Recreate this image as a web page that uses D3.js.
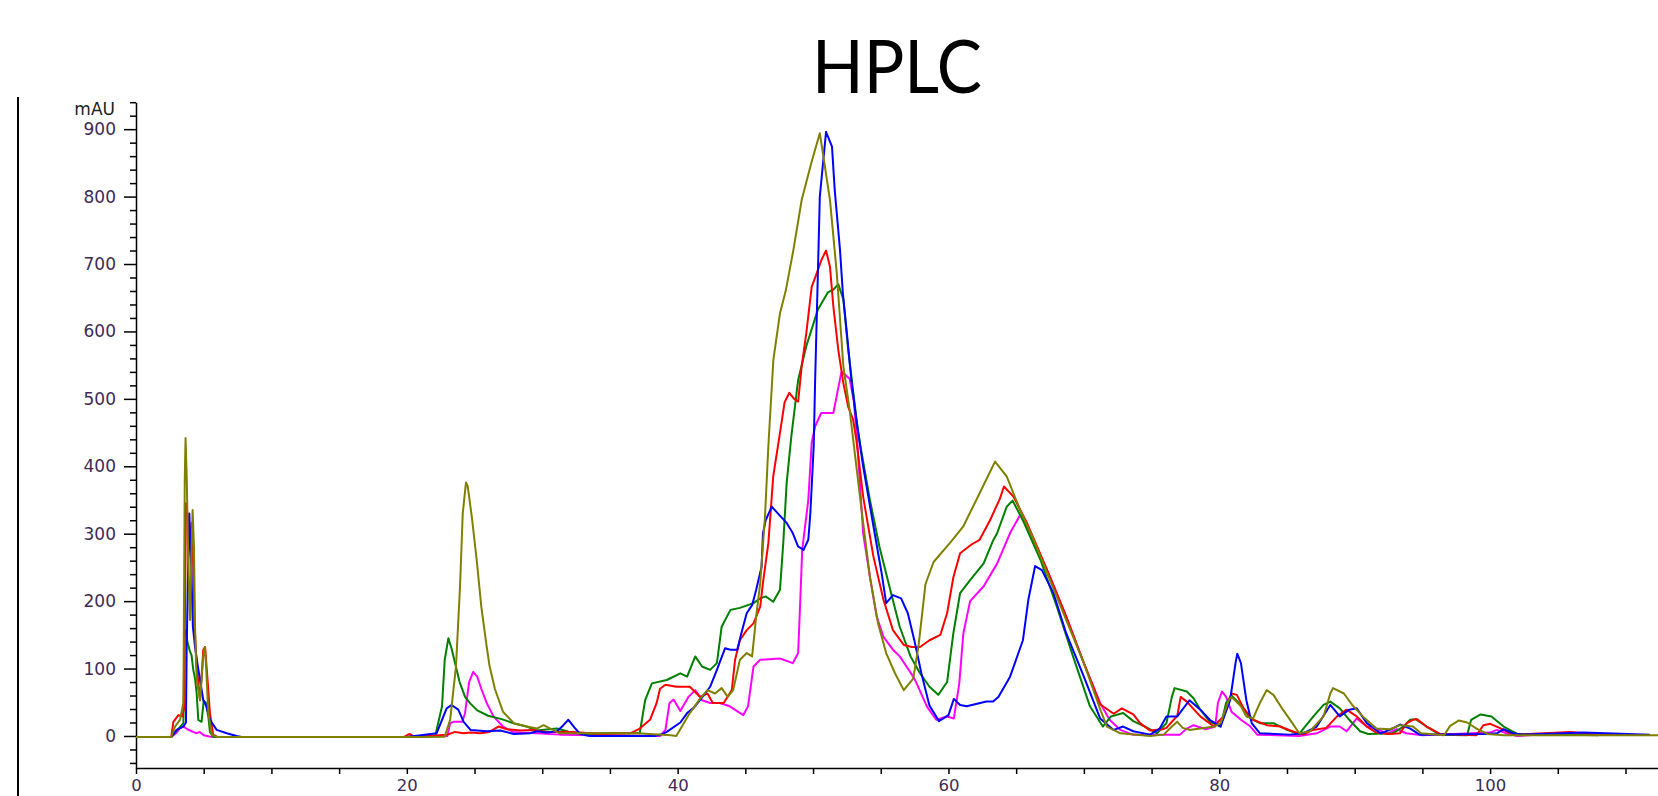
<!DOCTYPE html>
<html>
<head>
<meta charset="utf-8">
<script src="https://cdn.jsdelivr.net/npm/d3@7"></script>
<style>
  body { margin: 0; background: #fff; }
  svg { display: block; }
</style>
</head>
<body>
<svg id="hplc"></svg>
<script>
var width = 1658,
    height = 796;

// retention time (min), absorbance (mAU)
var olive = [[0,-1.5],[2.6,-1.5],[2.88,14],[3.25,24],[3.5,49],[3.6,380],[3.66,442],[3.75,380],[3.86,261],[3.99,172],[4.1,271],[4.18,335],[4.28,281],[4.36,162],[4.48,83],[4.73,53],[4.97,118],[5.1,132],[5.2,93],[5.34,34],[5.6,2],[5.9,-1.5],
  [20,-1.5],[22.8,-1],[23.2,24],[23.63,103],[23.93,222],[24.13,330],[24.37,376],[24.5,370],[24.8,325],[25.16,261],[25.5,192],[25.9,132],[26.1,105],[26.5,70],[27.1,36],[27.9,19],[28.85,14],[29.6,11],[30.1,16],[30.6,11],[31.3,4],[34,4],[37,4],[39.5,1],[39.9,0],
  [40.4,17],[40.9,34],[41.65,55],[42.2,68],[42.76,63],[43.25,71],[43.7,58],[44.1,68],[44.6,113],[45.1,123],[45.5,118],[45.8,177],[46.1,227],[46.45,325],[46.7,430],[47.07,558],[47.56,627],[48.0,662],[48.55,721],[49.16,795],[49.9,852],[50.5,894],[51.25,795],[51.75,687],[52.24,548],[52.7,484],[53.2,400],[53.7,316],[54.2,236],[54.8,167],[55.4,123],[56.05,93],[56.7,68],[57.4,85],[57.8,135],[58.3,225],[58.9,258],[60.1,286],[61.1,311],[62.3,360],[63.44,407],[64.3,385],[65.3,335],[66.3,291],[67.5,231],[68.7,172],[70.0,108],[71.2,40],[71.7,14],[72.7,4],[74.9,0],[75.9,2],
  [76.5,14],[76.9,21],[77.3,12],[77.8,9],[78.6,11],[79.6,14],[80.1,19],[80.7,53],[80.9,58],[81.6,44],[82.0,29],[82.5,26],[83.0,49],[83.5,68],[84.0,61],[84.7,39],[85.4,19],[85.9,4],[86.7,7],[87.7,29],[88.2,63],[88.4,71],[89.2,63],[89.9,44],[90.6,29],[91.6,11],[92.6,10],[93.35,16],[94.3,14],[94.9,4],[96.6,1],[97.05,15],[97.7,23],[98.3,20],[99.0,11],[99.8,3],[101,1],[112.4,1]];

var blue = [[0,-1.5],[2.6,-1.5],[3.0,9],[3.5,14],[3.69,20],[3.74,128],[3.86,261],[3.94,330],[4.0,290],[4.08,251],[4.2,162],[4.36,132],[4.53,108],[4.73,83],[4.97,53],[5.2,44],[5.46,24],[5.96,9],[6.7,4],[7.43,0],[7.8,-1.5],
  [20,-1.5],[22.2,4],[22.6,24],[22.94,41],[23.3,46],[23.8,39],[24.2,21],[24.7,9],[25.9,7],[26.9,8],[27.9,3],[29.1,4],[29.6,7],[30.3,5],[31.1,7],[31.56,16],[31.93,24],[32.4,12],[32.8,3],[33.5,0],[38.3,0],[38.9,3],[39.2,6],
  [40.2,20],[40.7,34],[41.2,42],[41.65,53],[42.4,73],[42.9,98],[43.5,130],[43.9,128],[44.4,128],[44.7,152],[45.1,182],[45.5,194],[45.8,217],[46.2,251],[46.3,300],[46.5,320],[46.95,340],[47.5,328],[48.05,316],[48.5,301],[48.9,281],[49.3,276],[49.65,291],[49.8,330],[50.05,430],[50.15,524],[50.4,720],[50.5,800],[50.96,896],[51.4,874],[51.6,810],[51.99,721],[52.2,657],[52.5,597],[52.85,524],[53.2,469],[53.7,400],[54.46,311],[55.07,241],[55.4,197],[55.9,209],[56.5,204],[57.0,182],[57.5,140],[58.0,93],[58.6,45],[59.3,22],[60.0,31],[60.4,55],[60.86,46],[61.35,44],[62.8,51],[63.3,51],[63.7,58],[64.55,88],[65.5,142],[65.9,202],[66.4,252],[66.9,246],[67.75,212],[68.7,152],[70.0,88],[71.2,26],[72.2,9],[72.9,14],[73.65,7],[74.9,2],
  [75.6,11],[76.1,29],[76.9,29],[77.8,53],[78.6,39],[79.3,24],[80.1,14],[80.8,53],[81.2,108],[81.33,122],[81.6,108],[82.0,53],[82.4,19],[83.0,4],[85.2,2],[86.2,4],[87.2,14],[88.2,46],[88.9,29],[89.6,39],[90.15,41],[90.9,19],[91.9,4],[92.6,9],[93.35,17],[94.1,11],[94.8,2],[99.5,3],[100.5,4],[101.0,10],[101.7,4],[102.5,2],[105.4,4],[106.9,5],[111.8,2]];

var red = [[0,-1.5],[2.6,-1.5],[2.76,21],[3.13,31],[3.4,29],[3.55,40],[3.69,345],[3.86,320],[3.99,291],[4.1,316],[4.23,251],[4.33,162],[4.48,103],[4.73,53],[4.97,128],[5.1,132],[5.25,93],[5.46,34],[5.7,2],[6.0,-1.5],
  [19.8,-1.5],[20.2,3],[20.5,-1],[23.0,2],[23.56,6],[24.2,4],[24.7,5],[25.4,4],[26.1,6],[26.76,14],[27.4,10],[28.4,8],[29.3,9],[30.3,6],[31.3,6],[32.3,6],[34.3,3],[36.5,4],[37.2,11],[37.96,24],[38.45,49],[38.7,70],[39.1,76],[39.9,73],
  [40.9,73],[41.65,58],[42.2,63],[42.6,49],[43.4,49],[44.0,68],[44.24,113],[44.6,142],[45.1,157],[45.6,167],[46.1,192],[46.3,227],[46.7,286],[47.06,385],[47.56,450],[47.9,495],[48.25,509],[48.6,500],[48.9,496],[49.16,548],[49.5,597],[49.9,666],[50.27,686],[50.6,705],[50.96,720],[51.25,696],[51.5,637],[51.87,572],[52.24,523],[52.6,488],[52.96,469],[53.2,439],[53.7,355],[54.46,266],[55.2,202],[55.9,157],[56.7,135],[57.3,132],[57.9,132],[58.6,142],[59.4,150],[59.9,182],[60.36,235],[60.86,271],[61.7,284],[62.3,291],[63.07,320],[63.8,352],[64.1,370],[64.8,355],[65.8,316],[67.5,236],[68.7,177],[70,108],[71.2,47],[72.2,33],[72.8,41],[73.65,32],[74.15,19],[74.9,8],[75.8,10],
  [76.1,12],[76.9,30],[77.15,58],[77.6,51],[78.6,29],[79.6,14],[80.3,29],[80.9,63],[81.3,61],[81.8,41],[82.5,24],[83.5,16],[84.5,14],[85.4,7],[86.2,2],[86.9,9],[87.9,12],[88.7,29],[89.4,39],[90.15,29],[90.9,14],[91.6,5],[92.6,3],[93.35,4],[93.85,19],[94.3,24],[94.6,25],[95.3,14],[95.6,11],[96.3,3],[99.0,1],[99.5,16],[100.0,18],[100.7,12],[101.5,4],[102,2],[105.9,6],[107,4],[109.8,2]];

var green = [[0,-1.5],[2.6,-1.5],[3.0,8],[3.5,19],[3.58,152],[3.69,157],[3.79,140],[3.99,125],[4.1,120],[4.23,98],[4.36,85],[4.48,63],[4.6,24],[4.84,21],[5.0,52],[5.15,50],[5.34,29],[5.46,6],[5.7,-1.5],
  [20,-1.5],[22.1,0],[22.6,44],[22.8,113],[23.07,145],[23.3,130],[23.6,105],[23.9,80],[24.3,58],[24.7,48],[25.2,38],[26.0,30],[27.0,25],[28.0,18],[28.85,14],[29.6,8],[30.5,10],[31.1,11],[32.0,6],[33,3],[34.3,4],[37.2,4],[37.6,53],[38.1,78],[39.2,83],
  [40.2,93],[40.7,88],[41.3,118],[41.8,103],[42.4,98],[42.9,108],[43.25,162],[43.9,187],[44.6,190],[45.6,197],[46.1,204],[46.5,207],[47.06,199],[47.56,217],[47.8,286],[48.05,375],[48.4,445],[48.9,528],[49.5,578],[50.35,632],[51.1,658],[51.5,662],[51.87,670],[52.24,647],[52.6,572],[52.98,508],[53.3,455],[53.5,430],[54.2,350],[54.9,281],[55.7,217],[56.4,162],[57.2,118],[57.9,93],[58.6,73],[59.25,61],[59.9,80],[60.36,152],[60.86,212],[61.6,231],[62.6,256],[63.3,290],[63.6,301],[64.3,340],[64.74,349],[65.5,320],[66.8,261],[68.0,192],[69.2,118],[70.45,44],[71.4,14],[72.0,29],[72.9,34],[73.65,22],[74.7,12],[75.4,4],
  [76.1,19],[76.5,58],[76.7,71],[77.6,66],[78.1,56],[78.6,39],[79.3,21],[80.1,14],[80.5,49],[80.9,60],[81.6,46],[82.3,26],[83.0,19],[84.0,19],[85.0,9],[85.9,3],[86.95,29],[87.7,46],[88.2,51],[88.9,41],[89.6,24],[90.4,7],[91,3],[92.8,4],[93.6,14],[94.1,24],[94.5,25],[95.3,14],[96.3,2],[98.3,1],[98.6,24],[99.3,32],[100.1,29],[101.0,14],[102,3],[108,1]];

var magenta = [[0,-1.5],[2.6,-1.5],[3.0,5],[3.25,12],[3.5,14],[3.8,10],[4.2,6],[4.48,4],[4.7,6],[5.0,1],[5.5,-1],[7.2,-1.5],
  [20,-1.5],[23.0,0],[23.2,19],[23.45,21],[24.1,21],[24.3,34],[24.6,80],[24.9,95],[25.2,88],[25.5,70],[25.9,49],[26.4,29],[27.1,14],[27.85,6],[28.4,5],[29.6,4],[31.3,2],[34,1],[38.7,0],[39.1,9],[39.4,49],[39.7,54],
  [40.2,37],[40.8,58],[41.3,68],[41.8,53],[42.4,49],[43.1,49],[43.85,44],[44.85,31],[45.2,44],[45.6,103],[46.1,113],[47.56,115],[48.5,108],[48.9,123],[49.04,192],[49.2,276],[49.65,350],[49.9,435],[50.15,459],[50.6,479],[51.5,479],[51.9,520],[52.1,540],[52.7,530],[53.0,498],[53.2,455],[53.7,301],[54.2,236],[54.7,177],[55.2,147],[55.9,128],[56.4,118],[56.9,103],[57.4,88],[57.65,78],[58.4,44],[59.1,24],[59.9,29],[60.4,26],[60.8,78],[61.1,152],[61.6,200],[62.6,222],[63.6,256],[64.55,301],[65.3,328],[66.3,291],[67.5,236],[68.7,177],[70,108],[71.2,49],[71.9,24],[72.7,9],[73.6,2],
  [77.1,2],[77.6,11],[78.1,16],[79.0,10],[79.7,14],[79.9,49],[80.2,66],[80.5,58],[80.9,36],[81.6,24],[82.3,14],[82.8,2],[85.9,0],[87.2,4],[88.2,14],[88.9,14],[89.4,7],[90.15,26],[90.9,14],[91.6,11],[92.4,3],[93.1,10],[93.8,4],[95,1],[100,5],[100.5,9],[101.2,4],[102,0],[105.5,4],[109.4,2]];

var series = [
  {name: "magenta", color: "#ff00ff", values: magenta},
  {name: "green", color: "#008000", values: green},
  {name: "red", color: "#ff0000", values: red},
  {name: "blue", color: "#0000ff", values: blue},
  {name: "olive", color: "#808000", values: olive}
];

var xLabels = [0, 20, 40, 60, 80, 100];
var yLabels = [0, 100, 200, 300, 400, 500, 600, 700, 800, 900];

var svg = d3.select("#hplc")
    .attr("width", width)
    .attr("height", height);

var xScale = d3.scaleLinear().domain([0, 112.4]).range([136, 1658]);
var yScale = d3.scaleLinear().domain([-47.5, 940]).range([768, 102.2]);

// frame line on the left
svg.append("line")
    .attr("x1", 18).attr("x2", 18)
    .attr("y1", 97).attr("y2", height)
    .attr("stroke", "#000")
    .attr("stroke-width", 2);

svg.append("text")
    .attr("x", 897)
    .attr("y", 93)
    .attr("text-anchor", "middle")
    .attr("textLength", 170)
    .attr("lengthAdjust", "spacingAndGlyphs")
    .style("font-family", "Lato, 'Open Sans', sans-serif")
    .style("font-size", "74px")
    .style("fill", "#000")
    .text("HPLC");

var tickFont = "'DejaVu Sans', Verdana, sans-serif";

// y axis: minor ticks every 20, labelled every 100
var yMinor = d3.range(-40, 941, 20).filter(function(d) { return d % 100 != 0; });
svg.append("g")
    .attr("transform", "translate(136,0)")
    .call(d3.axisLeft(yScale).tickValues(yMinor).tickSize(6).tickSizeOuter(0).tickFormat(""))
    .call(function(g) { g.selectAll("line,path").attr("stroke", "#000").attr("stroke-width", 1.5); });

svg.append("g")
    .attr("transform", "translate(136,0)")
    .call(d3.axisLeft(yScale).tickValues(yLabels).tickSize(12).tickPadding(8).tickSizeOuter(0))
    .call(function(g) {
      g.select(".domain").remove();
      g.selectAll("line").attr("stroke", "#000").attr("stroke-width", 1.5);
      g.selectAll("text").style("font-family", tickFont).style("font-size", "17px").attr("fill", "#3d2b55");
    });

svg.append("text")
    .attr("x", 115)
    .attr("y", 115)
    .attr("text-anchor", "end")
    .style("font-family", tickFont)
    .style("font-size", "17px")
    .style("fill", "#222")
    .text("mAU");

// x axis: ticks every 5 min
var xTicks = d3.range(0, 112.4, 5);
svg.append("g")
    .attr("transform", "translate(0,768)")
    .call(d3.axisBottom(xScale).tickValues(xTicks).tickSize(6).tickPadding(5).tickSizeOuter(0)
      .tickFormat(function(d) { return xLabels.indexOf(d) >= 0 ? d : ""; }))
    .call(function(g) {
      g.selectAll("line,path").attr("stroke", "#000").attr("stroke-width", 1.5);
      g.selectAll("text").style("font-family", tickFont).style("font-size", "16.5px").attr("fill", "#3d2b55");
    });

var line = d3.line()
    .x(function(d) { return xScale(d[0]); })
    .y(function(d) { return yScale(d[1]); });

svg.append("g")
  .selectAll("path")
  .data(series)
  .enter()
  .append("path")
    .attr("class", function(d) { return "trace " + d.name; })
    .attr("d", function(d) { return line(d.values); })
    .attr("fill", "none")
    .attr("stroke", function(d) { return d.color; })
    .attr("stroke-width", 2)
    .attr("stroke-linejoin", "round");
</script>
</body>
</html>
